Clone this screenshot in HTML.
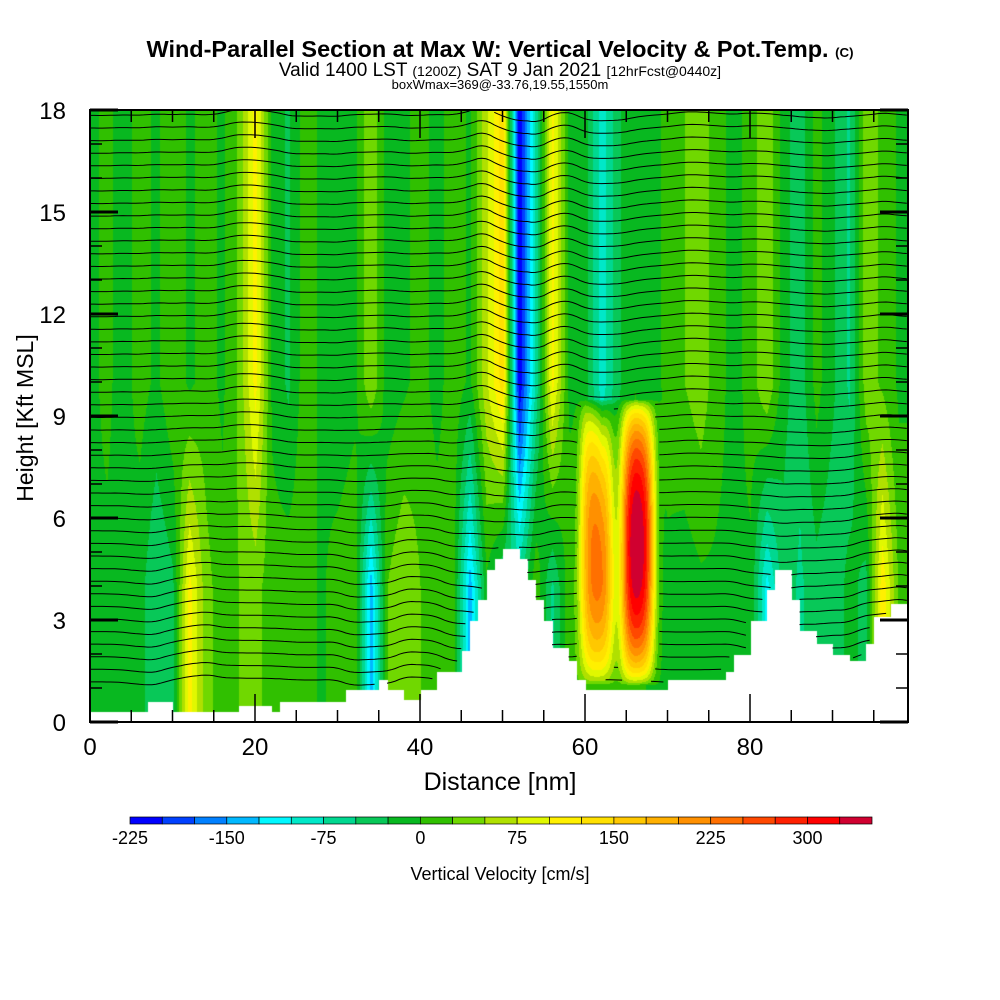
<!DOCTYPE html>
<html><head><meta charset="utf-8">
<style>
body{margin:0;background:#fff;}
#wrap{position:relative;width:1000px;height:1000px;font-family:"Liberation Sans",sans-serif;}
.t{position:absolute;white-space:nowrap;}
</style></head>
<body>
<div id="wrap">
<div class="t" style="left:0;width:1000px;text-align:center;top:36px;font-size:23px;font-weight:bold;transform:scaleX(1.02);">Wind-Parallel Section at Max W: Vertical Velocity &amp; Pot.Temp. <span style="font-size:13px">(C)</span></div>
<div class="t" style="left:0;width:1000px;text-align:center;top:60px;font-size:19px;">Valid 1400 LST <span style="font-size:14px">(1200Z)</span> SAT 9 Jan 2021 <span style="font-size:14px">[12hrFcst@0440z]</span></div>
<div class="t" style="left:0;width:1000px;text-align:center;top:77px;font-size:13px;">boxWmax=369@-33.76,19.55,1550m</div>
<canvas id="cv" width="818" height="612" style="position:absolute;left:90px;top:110px;"></canvas>
<svg id="sv" width="1000" height="1000" style="position:absolute;left:0;top:0;"></svg>
</div>
<script>
// ---- data ----
const terrain=[0.3,0.3,0.3,0.3,0.3,0.3,0.3,0.6,0.6,0.6,0.3,0.3,0.3,0.3,0.3,0.3,0.3,0.3,0.5,0.5,0.5,0.5,0.3,0.6,0.6,0.6,0.6,0.6,0.6,0.6,0.6,0.95,0.95,0.95,0.95,1.25,0.95,0.95,0.65,0.65,0.95,0.95,1.5,1.5,1.5,2.1,3.0,3.6,4.5,4.8,5.1,5.1,4.8,4.2,3.6,3.0,2.2,2.2,1.8,1.25,0.95,0.95,0.95,0.95,0.95,0.95,0.95,0.95,0.95,0.95,1.25,1.25,1.25,1.25,1.25,1.25,1.25,1.5,2.0,2.0,3.0,3.0,3.9,4.5,4.5,3.6,2.7,2.7,2.3,2.3,2.0,2.0,1.8,1.8,2.3,3.1,3.1,3.5,3.5,3.5];
const upperW=[-5,5,-10,10,-5,20,-5,10,-5,30,110,-5,-30,15,-5,-25,-10,50,-15,-5,10,-10,15,-5,70,140,-225,-70,110,-5,-15,-90,-30,0,-15,10,25,40,10,-10,10,50,-15,-40,10,-20,-55,40,20,-5];
const lowerW=[-5,-5,-5,-15,-50,-30,110,35,10,25,35,10,15,15,-5,15,25,-140,25,50,25,15,10,-140,-5,-55,-55,20,-55,15,10,10,10,10,-5,-5,-15,-5,-5,-5,-5,-110,-35,-55,-35,-45,-15,-35,120,20];
const plumeX=[61.4,66.3];
const plumeAmp=[240,350];
const levels=[-225,-200,-175,-150,-125,-100,-75,-50,-25,0,25,50,75,100,125,150,175,200,225,250,275,300,325,350];
const colors=["#0000ff","#0040ff","#0080ff","#00b8ff","#00f8ff","#00e8c8","#00d890","#08c858","#08b820","#30c000","#70d800","#b0e000","#e0f800","#fff000","#ffe000","#ffc800","#ffb000","#ff9000","#ff7000","#ff4800","#ff2000","#ff0000","#d00030"];
const xTicks=[0,20,40,60,80];
const yTicks=[0,3,6,9,12,15,18];
const cbLabels=[-225,-150,-75,0,75,150,225,300];
// ---- axes ----
const X0=90,X1=908,Y0=722,Y1=110,XMAX=99.15,YMAX=18;
const sx=d=>X0+d*(X1-X0)/XMAX, sy=h=>Y0-h*(Y0-Y1)/YMAX;
function interp(arr,d,step){const i=d/step;const a=Math.max(0,Math.min(arr.length-1,Math.floor(i)));const b=Math.min(arr.length-1,a+1);const f=Math.max(0,Math.min(1,i-a));return arr[a]*(1-f)+arr[b]*f;}
function terr(d){const i=Math.max(0,Math.min(terrain.length-1,Math.floor(d)));return terrain[i];}
function baseW(d,h){
  const lo=interp(lowerW,d,2),up=interp(upperW,d,2);
  const t=Math.max(0,Math.min(1,(h-4)/6));
  return lo*(1-t)+up*t;
}
function plumeW(d,h){
  let w=0;
  for(let k=0;k<plumeX.length;k++){
    const dx=(d-plumeX[k])/2.0, dh=(h-5.3)/4.2;
    const v=Math.max(0,1-dh*dh);
    w+=plumeAmp[k]*Math.exp(-dx*dx*dx*dx*0.6-dx*dx*0.4)*Math.pow(v,0.6);
  }
  return w;
}
function wAt(d,h){return baseW(d,h)+plumeW(d,h);}
const cv=document.getElementById('cv'),ctx=cv.getContext('2d');
const rgb=colors.map(c=>[parseInt(c.slice(1,3),16),parseInt(c.slice(3,5),16),parseInt(c.slice(5,7),16)]);
const img=ctx.createImageData(818,612);
for(let px=0;px<818;px++){const d=px*XMAX/818;const th=terr(d);
 for(let py=0;py<612;py++){const h=(612-py)*YMAX/612;const o=(py*818+px)*4;
  if(h<th){img.data[o]=255;img.data[o+1]=255;img.data[o+2]=255;img.data[o+3]=255;continue;}
  const w=wAt(d,h);let i=0;while(i<colors.length-1&&w>=levels[i+1])i++;
  img.data[o]=rgb[i][0];img.data[o+1]=rgb[i][1];img.data[o+2]=rgb[i][2];img.data[o+3]=255;}}
ctx.putImageData(img,0,0);
const NS='http://www.w3.org/2000/svg',sv=document.getElementById('sv');
function mk(tag,at){const e=document.createElementNS(NS,tag);for(const k in at)e.setAttribute(k,at[k]);sv.appendChild(e);return e;}
function smoothW(d,L){let s=0,n=0;for(let e=-3;e<=3;e+=0.5){s+=baseW(Math.max(0,Math.min(XMAX,d+e)),L);n++;}return s/n;}
// theta contours
for(let L=1.2;L<18.4;L+=0.37){
 let dstr='',pen=false;
 for(let d=0;d<=XMAX;d+=0.5){
  let h=L+Math.max(-150,Math.min(150,smoothW(d,L)))*0.004;
  if(h>YMAX||h<terr(d)+0.05||plumeW(d,h)>40){pen=false;continue;}
  dstr+=(pen?'L':'M')+sx(d).toFixed(1)+' '+sy(h).toFixed(1);pen=true;}
 const p=mk('path',{d:dstr,fill:'none',stroke:'#000','stroke-width':1});
 
 
}
// frame
const fr=mk('rect',{x:X0,y:Y1,width:X1-X0,height:Y0-Y1,fill:'none',stroke:'#000','stroke-width':2});


for(let h=0;h<=18;h++){const y=sy(h),len=h%3==0?28:12;
 mk('line',{x1:X0,x2:X0+len,y1:y,y2:y,stroke:'#000','stroke-width':h%3==0?3:1.5});
 mk('line',{x1:X1,x2:X1-len,y1:y,y2:y,stroke:'#000','stroke-width':h%3==0?3:1.5});}
for(let d=0;d<=95;d+=5){const x=sx(d),len=d%20==0?28:12;
 mk('line',{x1:x,x2:x,y1:Y0,y2:Y0-len,stroke:'#000','stroke-width':1.5});
 mk('line',{x1:x,x2:x,y1:Y1,y2:Y1+len,stroke:'#000','stroke-width':1.5});}
yTicks.forEach(v=>{const t=mk('text',{x:66,y:sy(v)+9,'text-anchor':'end','font-size':24,'font-family':'Liberation Sans'});t.textContent=v;
 
 });
xTicks.forEach(v=>{const t=mk('text',{x:sx(v),y:755,'text-anchor':'middle','font-size':24,'font-family':'Liberation Sans'});t.textContent=v;
 
 });
const xt=mk('text',{x:500,y:790,'text-anchor':'middle','font-size':25,'font-family':'Liberation Sans'});xt.textContent='Distance [nm]';


const yt=mk('text',{x:33,y:418,'text-anchor':'middle','font-size':23,'font-family':'Liberation Sans',transform:'rotate(-90 33 418)'});yt.textContent='Height [Kft MSL]';


// colorbar
const CB0=130,CB1=872,bw=(CB1-CB0)/colors.length;
colors.forEach((c,i)=>{const r=mk('rect',{x:CB0+i*bw,y:817,width:bw,height:7,fill:c,stroke:'#000','stroke-width':0.7});
 
 });
cbLabels.forEach(v=>{const t=mk('text',{x:CB0+(v-levels[0])/25*bw,y:844,'text-anchor':'middle','font-size':18,'font-family':'Liberation Sans'});t.textContent=v;
 
 });
const ct=mk('text',{x:500,y:880,'text-anchor':'middle','font-size':18,'font-family':'Liberation Sans'});ct.textContent='Vertical Velocity [cm/s]';


</script>
</body></html>
